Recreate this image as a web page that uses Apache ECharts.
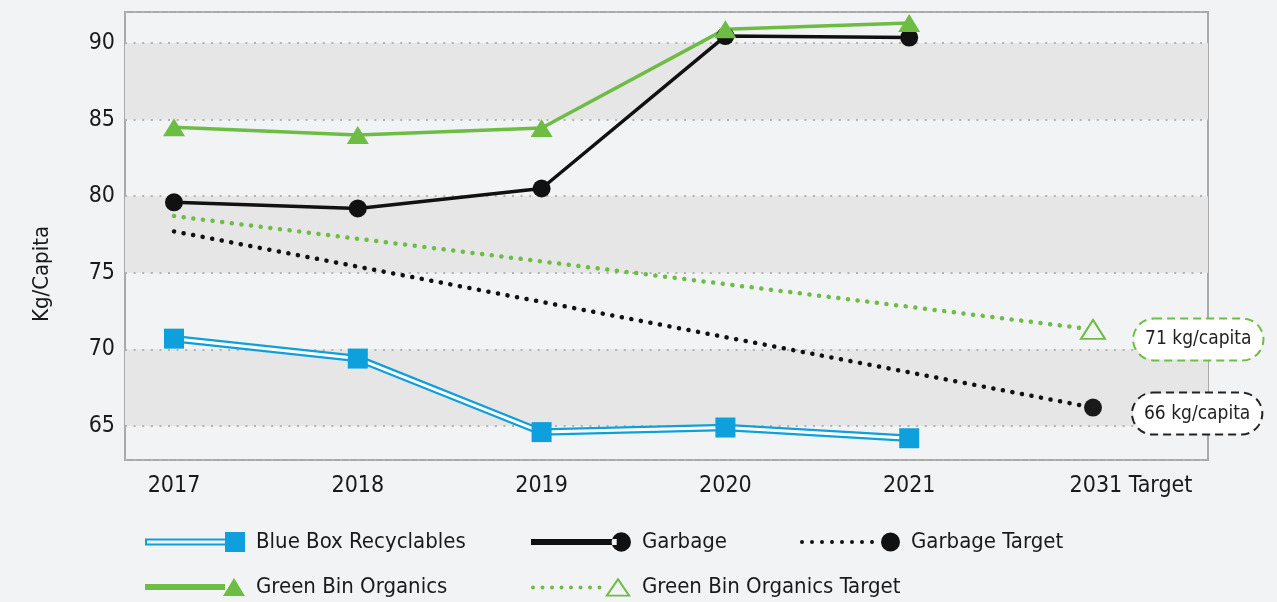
<!DOCTYPE html>
<html>
<head>
<meta charset="utf-8">
<script src="https://cdn.jsdelivr.net/npm/echarts@6/dist/echarts.min.js"></script>
<style>
  html, body { margin: 0; padding: 0; background: #f2f3f5; }
  #chart { width: 1277px; height: 602px; }
</style>
</head>
<body>
<div id="chart"></div>
<script>
// data
const years = ['2017', '2018', '2019', '2020', '2021', '2031 Target']
const blueBox = [70.7, 69.4, 64.6, 64.9, 64.2, null]
const garbage = [79.6, 79.2, 80.5, 90.45, 90.35, null]
const greenBin = [84.5, 84.0, 84.45, 90.9, 91.3, null]
const garbageTarget = [77.7, null, null, null, null, 66.2]
const greenTarget = [78.7, null, null, null, null, 71.3]
const yTicks = [65, 70, 75, 80, 85, 90]

const FONT = "'DejaVu Sans Condensed', 'Liberation Sans', sans-serif"
const BLUE = '#0ea0dc'
const GREEN = '#6dbd45'
const BLACK = '#111111'
const BG = '#f2f3f5'

// legend icons: line + marker at the right end, drawn in a 100x20 box
const icons = {
  blue: 'path://M0,6.5h80v2h-80zM0,11.5h80v2h-80zM0,6.5h2v7h-2zM80,0h20v20h-20z',
  garbage: 'path://M2,7h84v6h-84zM81,10a9.5,9.5 0 1,0 19,0a9.5,9.5 0 1,0 -19,0z',
  garbageT: 'path://' + [0, 1, 2, 3, 4, 5, 6, 7].map(k => {
    const cx = 2 + k * 10
    return 'M' + (cx - 2) + ',10a2,2 0 1,0 4,0a2,2 0 1,0 -4,0z'
  }).join('') + 'M81,10a9.5,9.5 0 1,0 19,0a9.5,9.5 0 1,0 -19,0z',
  green: 'path://M0,8h80v6h-80zM78,20L89,2L100,20z',
  greenT: 'path://' + [0, 1, 2, 3, 4, 5, 6, 7].map(k => {
    const cx = 2 + k * 9.5
    return 'M' + (cx - 2) + ',11a2,2 0 1,0 4,0a2,2 0 1,0 -4,0z'
  }).join('') + 'M74,20L87,1L100,20zM77.6,18.2L96.4,18.2L87,4.5z'
}

const endLabel = (color, distance, offsetY) => ({
  show: true,
  position: 'right',
  distance: distance,
  offset: [0, offsetY],
  formatter: p => Math.round(p.value) + ' kg/capita',
  fontFamily: FONT,
  fontSize: 19,
  color: '#222',
  backgroundColor: '#ffffff',
  borderColor: color,
  borderWidth: 2,
  borderType: [8, 5],
  borderRadius: 22,
  padding: [11, 11, 10, 11]
})

const targetData = (arr, label) => arr.map((v, i) => {
  if (i === 0) return { value: v, symbol: 'none' }
  if (i === arr.length - 1) return { value: v, label: label }
  return v
})

const chart = echarts.init(document.getElementById('chart'))

const legendItem = (left, top, name, icon, color) => ({
  orient: 'horizontal',
  left: left,
  top: top,
  itemWidth: 100,
  itemHeight: 20,
  padding: 0,
  selectedMode: false,
  textStyle: { fontFamily: FONT, fontSize: 22, color: '#1a1a1a', padding: [0, 0, 0, 6] },
  data: [{ name: name, icon: icon, itemStyle: { color: color, borderWidth: 0 } }]
})

chart.setOption({
  backgroundColor: BG,
  animation: false,
  grid: [
    { left: 125, right: 69, top: 12, bottom: 142, show: true, borderColor: '#a9a9a9', borderWidth: 2, backgroundColor: 'transparent' },
    { left: 174, right: 184, top: 12, bottom: 142 }
  ],
  xAxis: [
    { type: 'value', gridIndex: 0, min: 0, max: 1, show: false },
    {
      type: 'category',
      gridIndex: 1,
      data: years,
      boundaryGap: false,
      axisLine: { show: false },
      axisTick: { show: false },
      splitLine: { show: false },
      axisLabel: {
        interval: 0,
        margin: 15,
        fontFamily: FONT,
        fontSize: 23,
        color: '#1a1a1a',
        formatter: v => (v === years[years.length - 1] ? '{t|' + v + '}' : v),
        rich: { t: { fontFamily: FONT, fontSize: 23, color: '#1a1a1a', padding: [0, 0, 0, 76] } }
      }
    }
  ],
  yAxis: [
    {
      type: 'value',
      gridIndex: 0,
      min: 62.78,
      max: 92.02,
      name: 'Kg/Capita',
      nameLocation: 'middle',
      nameGap: 72,
      nameTextStyle: { fontFamily: FONT, fontSize: 22, color: '#1a1a1a', padding: [0, 76, 0, 0] },
      axisLine: { show: false },
      axisTick: { show: false },
      axisLabel: {
        margin: 10,
        fontFamily: FONT,
        fontSize: 23,
        color: '#1a1a1a',
        showMinLabel: false,
        showMaxLabel: false,
        formatter: v => (yTicks.indexOf(v) >= 0 ? String(v) : '')
      },
      splitLine: { show: true, lineStyle: { color: '#b2b2b2', width: 2, type: [2, 6.6] } },
      splitArea: { show: true, areaStyle: { color: ['rgba(0,0,0,0)', '#e6e6e6'] } }
    },
    { type: 'value', gridIndex: 1, min: 62.78, max: 92.02, show: false }
  ],
  legend: [
    legendItem(145, 531, 'Blue Box Recyclables', icons.blue, BLUE),
    legendItem(145, 576, 'Green Bin Organics', icons.green, GREEN),
    legendItem(531, 531, 'Garbage', icons.garbage, BLACK),
    legendItem(531, 576, 'Green Bin Organics Target', icons.greenT, GREEN),
    legendItem(800, 531, 'Garbage Target', icons.garbageT, BLACK)
  ],
  series: [
    {
      name: 'Garbage Target',
      type: 'line',
      xAxisIndex: 1,
      yAxisIndex: 1,
      data: targetData(garbageTarget, endLabel('#222', 31, 6)),
      connectNulls: true,
      symbol: 'circle',
      symbolSize: 18,
      lineStyle: { color: BLACK, width: 4.5, type: [0.1, 9.6], cap: 'round' },
      itemStyle: { color: '#1a1a1a', borderWidth: 0 },
      z: 2
    },
    {
      name: 'Green Bin Organics Target',
      type: 'line',
      xAxisIndex: 1,
      yAxisIndex: 1,
      data: targetData(greenTarget, endLabel(GREEN, 28, 10)),
      connectNulls: true,
      symbol: 'triangle',
      symbolSize: [24, 19],
      lineStyle: { color: GREEN, width: 4.5, type: [0.1, 9.6], cap: 'round' },
      itemStyle: { color: BG, borderColor: GREEN, borderWidth: 2 },
      z: 2
    },
    {
      name: '_blueOuter',
      type: 'line',
      xAxisIndex: 1,
      yAxisIndex: 1,
      data: blueBox,
      showSymbol: false,
      silent: true,
      lineStyle: { color: BLUE, width: 7.5 },
      z: 3
    },
    {
      name: 'Blue Box Recyclables',
      type: 'line',
      xAxisIndex: 1,
      yAxisIndex: 1,
      data: blueBox,
      symbol: 'rect',
      symbolSize: 20,
      lineStyle: { color: '#ffffff', width: 3 },
      itemStyle: { color: BLUE, borderWidth: 0 },
      z: 4
    },
    {
      name: 'Garbage',
      type: 'line',
      xAxisIndex: 1,
      yAxisIndex: 1,
      data: garbage,
      symbol: 'circle',
      symbolSize: 18,
      lineStyle: { color: BLACK, width: 3.5 },
      itemStyle: { color: BLACK, borderWidth: 0 },
      z: 5
    },
    {
      name: 'Green Bin Organics',
      type: 'line',
      xAxisIndex: 1,
      yAxisIndex: 1,
      data: greenBin,
      symbol: 'triangle',
      symbolSize: [22, 18],
      lineStyle: { color: GREEN, width: 3.5 },
      itemStyle: { color: GREEN, borderWidth: 0 },
      z: 5
    }
  ]
})
</script>
</body>
</html>
